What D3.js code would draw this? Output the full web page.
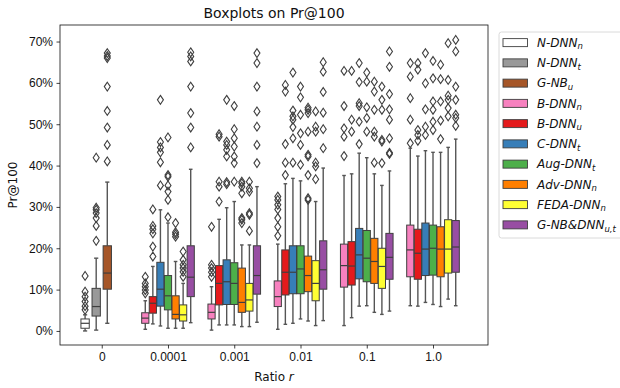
<!DOCTYPE html>
<html>
<head>
<meta charset="utf-8">
<script src="https://cdn.jsdelivr.net/npm/d3@7"></script>
<style>
  body { margin: 0; background: #fff; }
  svg { font-family: "DejaVu Sans", sans-serif; }
</style>
</head>
<body>
<div id="chart"></div>
<script>
// ratio groups on the x axis
const ratios = ['0', '0.0001', '0.001', '0.01', '0.1', '1.0'];

// methods (hue); name parts = [main, subscript]
const methods = [
  ['N-DNN', 'n'], ['N-DNN', 't'], ['G-NB', 'u'], ['B-DNN', 'n'], ['B-DNN', 'u'],
  ['C-DNN', 't'], ['Aug-DNN', 't'], ['Adv-DNN', 'n'], ['FEDA-DNN', 'n'], ['G-NB&DNN', 'u,t']
];
const methodColors = ['#ffffff', '#999999', '#a65628', '#f781bf', '#e41a1c',
  '#377eb8', '#4daf4a', '#ff7f00', '#ffff33', '#984ea3'];

// which methods appear in each ratio group
const groupMethods = [
  [0, 1, 2],
  [3, 4, 5, 6, 7, 8, 9],
  [3, 4, 5, 6, 7, 8, 9],
  [3, 4, 5, 6, 7, 8, 9],
  [3, 4, 5, 6, 7, 8, 9],
  [3, 4, 5, 6, 7, 8, 9]
];

// box statistics in % (same order as groupMethods)
const whiskerLow = [
  [0.0, 0.2, 1.85],
  [0.4, 1.7, 1.2, 0.65, 0.65, 0.65, 2.0],
  [0.2, 1.45, 1.45, 1.45, 1.05, 1.05, 2.1],
  [0.4, 1.6, 1.85, 2.9, 2.4, 1.3, 2.5],
  [1.3, 3.2, 6.0, 6.1, 4.5, 4.0, 4.8],
  [6.1, 6.0, 6.9, 6.4, 5.9, 7.7, 6.1]
];
const q1 = [
  [0.65, 3.6, 10.1],
  [1.85, 4.3, 6.0, 5.1, 2.9, 2.4, 8.3],
  [2.9, 6.3, 6.4, 6.4, 4.5, 4.8, 8.9],
  [5.9, 8.7, 9.0, 9.0, 9.5, 7.3, 10.1],
  [10.6, 11.1, 12.6, 11.9, 11.5, 10.3, 12.5],
  [13.1, 12.5, 13.4, 13.5, 13.1, 14.0, 14.2]
];
const medians = [
  [1.85, 5.9, 14.0],
  [3.1, 6.7, 10.1, 8.5, 4.0, 3.9, 13.0],
  [4.5, 11.5, 11.9, 11.5, 6.9, 7.5, 13.4],
  [8.3, 14.2, 14.2, 15.0, 13.4, 11.5, 14.8],
  [15.8, 15.7, 18.4, 17.6, 16.8, 15.6, 17.8],
  [19.6, 18.8, 19.8, 20.0, 19.8, 19.8, 20.3]
];
const q3 = [
  [2.9, 10.3, 20.6],
  [4.4, 8.3, 16.6, 13.4, 8.5, 6.3, 20.6],
  [6.5, 15.8, 17.2, 16.5, 15.2, 11.5, 20.6],
  [12.1, 19.6, 20.6, 20.6, 18.1, 17.0, 21.8],
  [21.0, 21.6, 24.8, 24.3, 22.4, 20.0, 23.6],
  [25.6, 24.6, 26.1, 25.6, 25.2, 26.9, 26.7]
];
const whiskerHigh = [
  [3.9, 17.6, 36.0],
  [7.3, 15.6, 29.3, 26.1, 16.8, 11.5, 39.1],
  [10.7, 27.0, 29.8, 31.3, 20.8, 20.8, 34.9],
  [21.0, 35.6, 36.9, 36.3, 31.3, 31.3, 39.4],
  [37.6, 38.0, 43.0, 41.9, 38.0, 35.2, 38.7],
  [44.2, 42.3, 43.6, 43.2, 43.2, 44.4, 46.4]
];
const outliers = [
  [[5.1, 6.0, 7.1, 8.3, 9.5, 13.3],
   [21.8, 25.4, 27.3, 28.5, 29.3, 29.8, 41.9],
   [41.0, 45.0, 49.2, 53.2, 59.1, 66.0, 66.5, 67.2]],
  [[9.1, 9.9, 10.7, 11.5, 13.1],
   [18.0, 20.4, 23.6, 24.6, 25.4, 29.4],
   [35.2, 40.8, 43.2, 44.4, 45.7, 55.9],
   [27.5, 31.7, 33.7, 35.2, 37.3, 37.7, 46.8],
   [22.8, 23.4, 23.9, 26.1],
   [13.1, 14.3, 15.2, 16.0, 17.2, 19.2],
   [44.4, 49.2, 52.7, 59.1, 65.2, 66.4, 67.4]],
  [[13.1, 14.2, 15.2, 16.0, 25.2],
   [31.3, 34.9, 36.1, 47.0, 47.6],
   [35.5, 36.0, 42.2, 43.8, 45.0, 45.8, 55.9],
   [36.1, 40.6, 42.2, 44.6, 46.6, 48.8, 54.4],
   [26.1, 26.9, 27.3, 33.3, 34.9, 35.7, 36.1],
   [24.2, 28.1, 28.5, 33.7, 34.5, 36.1],
   [40.6, 45.0, 49.4, 53.1, 59.1, 64.8, 67.2]],
  [[23.0, 25.2, 27.3, 29.4, 30.5, 31.7, 32.5],
   [37.7, 40.7, 45.2, 57.9, 59.5],
   [40.7, 46.6, 49.3, 51.1, 51.9, 53.3, 62.5],
   [40.2, 45.0, 47.8, 52.3, 56.5, 59.1],
   [31.7, 32.1, 37.7, 42.2, 42.6, 48.2, 52.7, 53.5, 54.0],
   [36.7, 39.8, 40.7, 48.2, 49.4, 53.1],
   [44.2, 48.8, 52.8, 57.8, 62.7, 65.0]],
  [[42.3, 47.0, 49.0, 54.4, 62.9],
   [48.2, 51.1, 62.9],
   [45.2, 50.6, 54.4, 55.1, 60.2, 64.8],
   [48.2, 51.5, 54.1, 60.3, 62.5],
   [40.7, 47.0, 48.2, 53.5, 57.9, 60.3],
   [40.6, 45.8, 46.2, 53.5, 55.9, 59.1],
   [42.8, 43.1, 46.6, 51.1, 53.6, 57.3, 63.9, 67.6]],
  [[45.4, 51.1, 56.3, 61.5, 64.8],
   [46.0, 47.4, 48.6, 63.2, 64.8],
   [47.4, 49.4, 53.6, 59.9, 67.2],
   [48.6, 50.6, 53.5, 55.5, 61.1, 65.3],
   [46.4, 50.9, 55.5, 60.9, 64.4],
   [51.9, 53.9, 55.9, 56.9, 60.7, 69.6],
   [49.6, 51.5, 52.3, 55.9, 59.1, 67.6, 70.4]]
];

const yTicks = [0, 10, 20, 30, 40, 50, 60, 70];

// ---- layout ----
const W = 620, H = 388;
const plot = { left: 60, right: 488, top: 25, bottom: 345 };
const edge = '#3f3f3f';
const whisk = '#555555';

const svg = d3.select('#chart').append('svg')
  .attr('width', W).attr('height', H);

const x = d3.scaleLinear().domain([-0.63, 5.83]).range([plot.left, plot.right]);
const y = d3.scaleLinear().domain([-3.4, 74.0]).range([plot.bottom, plot.top]);

// y axis
const yAxis = svg.append('g')
  .attr('transform', `translate(${plot.left},0)`)
  .call(d3.axisLeft(y).tickValues(yTicks).tickFormat(d => d + '%').tickSize(3.5).tickPadding(3.5));
// x axis
const xAxis = svg.append('g')
  .attr('transform', `translate(0,${plot.bottom})`)
  .call(d3.axisBottom(x).tickValues(d3.range(ratios.length)).tickFormat(i => ratios[i]).tickSize(3.5).tickPadding(4));
[xAxis, yAxis].forEach(a => {
  a.select('.domain').remove();
  a.selectAll('line').attr('stroke', '#111').attr('stroke-width', 0.8);
  a.selectAll('text').attr('fill', '#111').style('font-size', '12px');
});

// boxes
const g = svg.append('g');

groupMethods.forEach((ms, gi) => {
  // group 0 is dodged over 4 slots, others over 7
  const nSlots = gi === 0 ? 4 : ms.length;
  const span = gi === 0 ? 0.67 : 0.8;
  const slot = d3.scaleBand()
    .domain(d3.range(nSlots))
    .range([x(gi - span / 2), x(gi + span / 2)])
    .paddingInner(gi === 0 ? 0.25 : 0.05)
    .paddingOuter(gi === 0 ? 0.125 : 0.025);
  ms.forEach((m, k) => {
    const x0 = slot(k), bw = slot.bandwidth(), cx = x0 + bw / 2;
    const bg = g.append('g');
    // whiskers
    bg.append('line').attr('x1', cx).attr('x2', cx)
      .attr('y1', y(whiskerLow[gi][k])).attr('y2', y(q1[gi][k]))
      .attr('stroke', whisk).attr('stroke-width', 1.4);
    bg.append('line').attr('x1', cx).attr('x2', cx)
      .attr('y1', y(q3[gi][k])).attr('y2', y(whiskerHigh[gi][k]))
      .attr('stroke', whisk).attr('stroke-width', 1.4);
    [whiskerLow[gi][k], whiskerHigh[gi][k]].forEach(v => {
      bg.append('line').attr('x1', cx - bw / 4).attr('x2', cx + bw / 4)
        .attr('y1', y(v)).attr('y2', y(v))
        .attr('stroke', whisk).attr('stroke-width', 1.4);
    });
    // box
    bg.append('rect').attr('x', x0).attr('width', bw)
      .attr('y', y(q3[gi][k])).attr('height', y(q1[gi][k]) - y(q3[gi][k]))
      .attr('fill', methodColors[m]).attr('stroke', edge).attr('stroke-width', 1);
    // median
    bg.append('line').attr('x1', x0).attr('x2', x0 + bw)
      .attr('y1', y(medians[gi][k])).attr('y2', y(medians[gi][k]))
      .attr('stroke', edge).attr('stroke-width', 1.2);
    // fliers
    bg.selectAll('path.flier').data(outliers[gi][k]).join('path')
      .attr('class', 'flier')
      .attr('d', 'M0,-4.4L3,0L0,4.4L-3,0Z')
      .attr('transform', v => `translate(${cx},${y(v)})`)
      .attr('fill', 'none').attr('stroke', edge).attr('stroke-width', 1.1);
  });
});

// frame
svg.append('rect')
  .attr('x', plot.left).attr('y', plot.top)
  .attr('width', plot.right - plot.left).attr('height', plot.bottom - plot.top)
  .attr('fill', 'none').attr('stroke', '#111').attr('stroke-width', 0.8);

// title + labels
svg.append('text').attr('x', (plot.left + plot.right) / 2).attr('y', 18)
  .attr('text-anchor', 'middle').style('font-size', '14px').attr('fill', '#111')
  .text('Boxplots on Pr@100');
svg.append('text').attr('transform', `translate(17,${(plot.top + plot.bottom) / 2}) rotate(-90)`)
  .attr('text-anchor', 'middle').style('font-size', '12px').attr('fill', '#111')
  .text('Pr@100');
const xl = svg.append('text').attr('x', (plot.left + plot.right) / 2).attr('y', 381)
  .attr('text-anchor', 'middle').style('font-size', '12px').attr('fill', '#111');
xl.append('tspan').text('Ratio ');
xl.append('tspan').style('font-style', 'italic').text('r');

// legend
const lg = svg.append('g').attr('transform', 'translate(499,32)');
lg.append('rect').attr('width', 128).attr('height', 206).attr('rx', 2.5)
  .attr('fill', '#fff').attr('stroke', '#d0d0d0').attr('stroke-width', 0.8);
const ly = d3.scaleBand().domain(d3.range(methods.length)).range([0.5, 203]);
methods.forEach((m, i) => {
  const cy = ly(i) + ly.bandwidth() / 2;
  lg.append('rect').attr('x', 4).attr('y', cy - 4).attr('width', 24.5).attr('height', 8)
    .attr('fill', methodColors[i]).attr('stroke', edge).attr('stroke-width', 0.9);
  const t = lg.append('text').attr('x', 38).attr('y', cy + 4.2)
    .style('font-size', '12px').style('font-style', 'italic').attr('fill', '#111');
  t.append('tspan').text(m[0]);
  t.append('tspan').attr('dy', 2.5).style('font-size', '8.5px').text(m[1]);
});
</script>
</body>
</html>
